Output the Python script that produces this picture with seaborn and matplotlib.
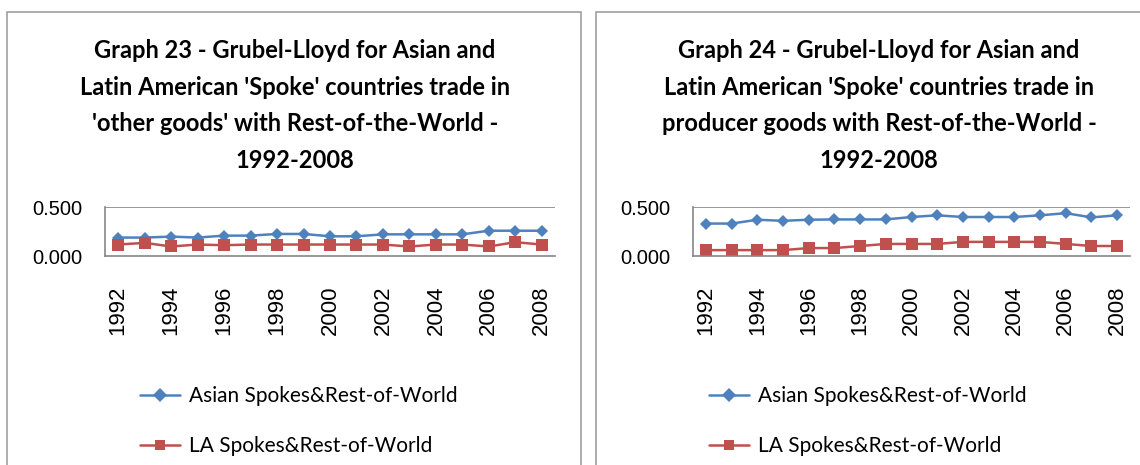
import matplotlib
matplotlib.use("Agg")
import matplotlib.pyplot as plt
import seaborn as sns
import pandas as pd
from matplotlib.patches import Rectangle

years = list(range(1992, 2009))
tick_years = years[::2]

g23_asian = [0.188, 0.188, 0.198, 0.188, 0.208, 0.208, 0.225, 0.225, 0.201, 0.201,
             0.221, 0.221, 0.221, 0.221, 0.258, 0.258, 0.258]
g23_la = [0.117, 0.134, 0.097, 0.117, 0.110, 0.117, 0.117, 0.117, 0.117, 0.117,
          0.117, 0.097, 0.117, 0.117, 0.097, 0.141, 0.117]

g24_asian = [0.331, 0.331, 0.370, 0.359, 0.370, 0.373, 0.373, 0.373, 0.398, 0.415,
             0.398, 0.398, 0.398, 0.415, 0.437, 0.394, 0.415]
g24_la = [0.060, 0.060, 0.060, 0.060, 0.081, 0.081, 0.102, 0.123, 0.123, 0.123,
          0.144, 0.144, 0.144, 0.144, 0.123, 0.102, 0.102]

series_names = ["Asian Spokes&Rest-of-World", "LA Spokes&Rest-of-World"]
titles = [
    "Graph 23 - Grubel-Lloyd for Asian and\nLatin American 'Spoke' countries trade in\n'other goods' with Rest-of-the-World -\n1992-2008",
    "Graph 24 - Grubel-Lloyd for Asian and\nLatin American 'Spoke' countries trade in\nproducer goods with Rest-of-the-World -\n1992-2008",
]

sns.set_theme(style="white")
plt.rcParams["font.family"] = ["Lato", "DejaVu Sans"]

W, H = 1140, 465
fig = plt.figure(figsize=(W / 100, H / 100), dpi=100)

blue = "#4F81BD"
red = "#C0504D"
gray = "#868686"
tickfont = ["Liberation Sans", "DejaVu Sans"]

panels = [
    dict(data=(g23_asian, g23_la), ax=(105, 207, 555, 256), box=(7, 12, 581, 470), tcx=295, leg=(140, 392)),
    dict(data=(g24_asian, g24_la), ax=(693, 207, 1130, 256), box=(596, 12, 1165, 470), tcx=879, leg=(709, 392)),
]

for i, p in enumerate(panels):
    bx0, by0, bx1, by1 = p["box"]
    fig.patches.append(Rectangle((bx0 / W, 1 - by1 / H), (bx1 - bx0) / W, (by1 - by0) / H,
                                 transform=fig.transFigure, fill=False, edgecolor="#A0A0A0",
                                 linewidth=1.2))
    x0, y0, x1, y1 = p["ax"]
    ax = fig.add_axes([x0 / W, 1 - y1 / H, (x1 - x0) / W, (y1 - y0) / H])
    a, l = p["data"]
    df = pd.DataFrame({
        "year": years * 2,
        "value": a + l,
        "series": [series_names[0]] * len(years) + [series_names[1]] * len(years),
    })
    sns.lineplot(data=df, x="year", y="value", hue="series", style="series",
                 palette=[blue, red], markers=["D", "s"], dashes=False,
                 markersize=7, linewidth=1.8, markeredgewidth=0, ax=ax)
    lines = ax.get_lines()
    if len(lines) >= 2:
        lines[0].set_markersize(6.5)
        lines[1].set_markersize(8)
    ax.set_xlim(years[0] - 0.5, years[-1] + 0.5)
    ax.set_ylim(0, 0.5)
    ax.set_yticks([0.0, 0.5])
    ax.set_yticklabels(["0.000", "0.500"], family=tickfont, fontsize=14.5, color="black")
    ax.set_xticks(tick_years)
    ax.set_xticklabels([str(y) for y in tick_years], rotation=90,
                       family=tickfont, fontsize=16, color="black")
    ax.tick_params(axis="both", length=0)
    ax.tick_params(axis="y", pad=16)
    ax.tick_params(axis="x", pad=21)
    ax.set_xlabel("")
    ax.set_ylabel("")
    ax.axhline(0.5, color=gray, linewidth=1.2, zorder=0)
    for s in ["top", "right"]:
        ax.spines[s].set_visible(False)
    for s in ["left", "bottom"]:
        ax.spines[s].set_color(gray)
        ax.spines[s].set_linewidth(1.2)
    ax.set_facecolor("none")
    h, lb = ax.get_legend_handles_labels()
    ax.legend_.remove()
    lx, ly = p["leg"]
    fig.legend(h, lb, loc="upper left", bbox_to_anchor=(lx / W, 1 - (ly - 6) / H),
               frameon=False, fontsize=15, handlelength=1.9, handletextpad=0.45,
               labelspacing=1.45, borderpad=0, borderaxespad=0, labelcolor="black")
    fig.text(p["tcx"] / W, 1 - 39 / H, titles[i], ha="center", va="top",
             fontsize=17, fontweight="bold", linespacing=1.72, color="black")

fig.savefig("out.png", dpi=100, facecolor="white")
